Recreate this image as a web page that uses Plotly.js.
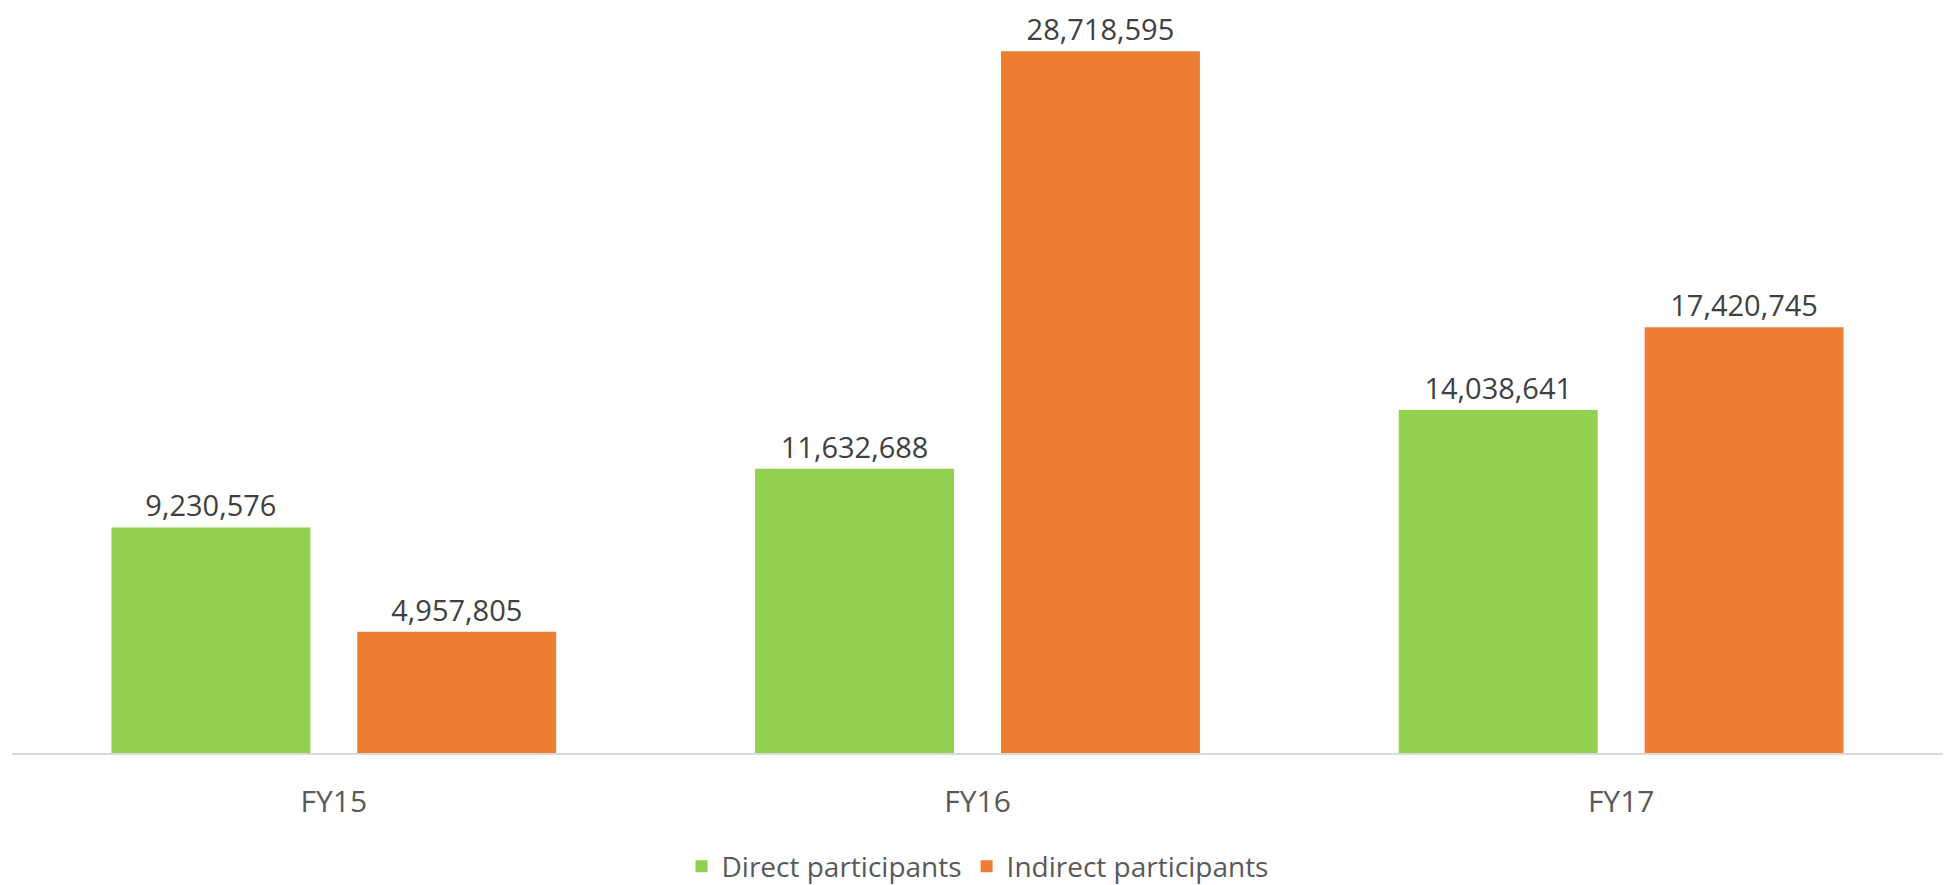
<!DOCTYPE html>
<html>
<head>
<meta charset="utf-8">
<script src="https://cdn.plot.ly/plotly-3.0.1.min.js"></script>
<style>html,body{margin:0;padding:0;background:#fff;}#chart{width:1944px;height:885px;}</style>
</head>
<body>
<div id="chart"></div>
<script>
const categories = ["FY15", "FY16", "FY17"];
const directParticipants = [9230576, 11632688, 14038641];
const indirectParticipants = [4957805, 28718595, 17420745];
const seriesNames = ["Direct participants", "Indirect participants"];

const fmt = v => v.toLocaleString("en-US");

const traces = [
  {
    type: "bar", name: seriesNames[0], x: categories, y: directParticipants,
    marker: {color: "#92D050"},
    text: directParticipants.map(fmt), textposition: "outside", cliponaxis: false,
    textfont: {family: "Open Sans", size: 29, color: "#404040"}
  },
  {
    type: "bar", name: seriesNames[1], x: categories, y: indirectParticipants,
    marker: {color: "#ED7D31"},
    text: indirectParticipants.map(fmt), textposition: "outside", cliponaxis: false,
    textfont: {family: "Open Sans", size: 29, color: "#404040"}
  }
];

const layout = {
  width: 1944, height: 885,
  margin: {l: 12, r: 1, t: 20, b: 132, autoexpand: false},
  paper_bgcolor: "#ffffff", plot_bgcolor: "#ffffff",
  barmode: "group", bargap: 0.236, bargroupgap: 0.191,
  font: {family: "Open Sans", color: "#595959"},
  xaxis: {
    showline: true, linecolor: "#D9D9D9", linewidth: 2,
    ticks: "", showgrid: false, zeroline: false,
    tickfont: {family: "Open Sans", size: 30, color: "#595959"},
    ticklabelstandoff: 21
  },
  yaxis: {
    range: [0, 30000000], visible: false, showgrid: false, zeroline: false
  },
  showlegend: true,
  legend: {
    orientation: "h", x: 0.5, xanchor: "center", y: -0.155, yanchor: "middle",
    font: {family: "Open Sans", size: 28, color: "#595959"},
    traceorder: "normal"
  }
};

Plotly.newPlot("chart", traces, layout, {staticPlot: true, displayModeBar: false});
</script>
</body>
</html>
